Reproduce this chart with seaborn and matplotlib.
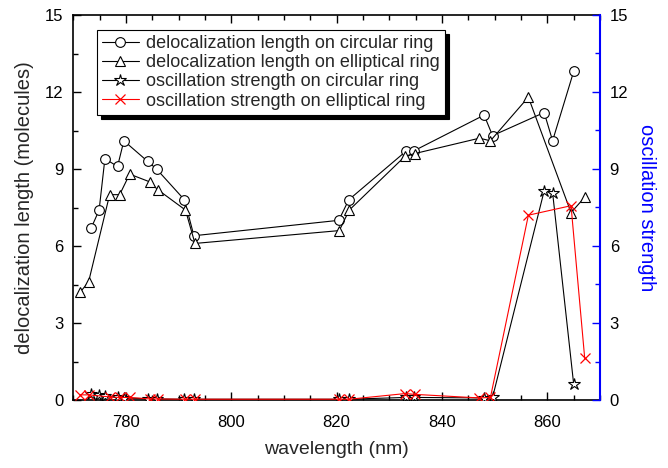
import matplotlib
matplotlib.use("Agg")
import matplotlib.pyplot as plt
import seaborn as sns
import pandas as pd
from matplotlib.ticker import MultipleLocator

sns.set_style("white")
plt.rcParams['font.family'] = ['Liberation Sans', 'DejaVu Sans']

# wavelengths (nm)
wl_circ = [773.4, 774.9, 776.0, 778.4, 779.6, 784.1, 785.8, 791.1, 792.9,
           820.4, 822.3, 833.2, 834.6, 848.0, 849.6, 859.4, 861.0, 865.0]
wl_ell = [771.3, 772.9, 776.9, 778.8, 780.7, 784.5, 786.0, 791.3, 793.1,
          820.5, 822.4, 833.0, 834.8, 847.1, 849.2, 856.4, 864.5, 867.1]

# delocalization length (molecules)
deloc_circ = [6.7, 7.4, 9.4, 9.1, 10.1, 9.3, 9.0, 7.8, 6.4,
              7.0, 7.8, 9.7, 9.7, 11.1, 10.3, 11.2, 10.1, 12.8]
deloc_ell = [4.2, 4.6, 8.0, 8.0, 8.8, 8.5, 8.2, 7.4, 6.1,
             6.6, 7.4, 9.5, 9.6, 10.2, 10.1, 11.8, 7.3, 7.9]

# oscillation strength
osc_circ = [0.25, 0.18, 0.15, 0.10, 0.08, 0.05, 0.04, 0.03, 0.03,
            0.03, 0.03, 0.10, 0.10, 0.08, 0.10, 8.15, 8.08, 0.62]
osc_ell = [0.20, 0.20, 0.12, 0.10, 0.10, 0.04, 0.04, 0.03, 0.03,
           0.03, 0.03, 0.25, 0.22, 0.08, 0.10, 7.2, 7.57, 1.62]

labels = ["delocalization length on circular ring",
          "delocalization length on elliptical ring",
          "oscillation strength on circular ring",
          "oscillation strength on elliptical ring"]

fig = plt.figure(figsize=(6.68, 4.68), dpi=100)
ax = fig.add_axes([73.3/668, 1-400/468, (600-73.3)/668, (400-15)/468])
ax2 = ax.twinx()

common = dict(sort=False, estimator=None, linewidth=0.8, markersize=7)
sns.lineplot(x=wl_circ, y=deloc_circ, ax=ax, color='black', marker='o',
             markerfacecolor='white', markeredgecolor='black', markeredgewidth=0.8,
             label=labels[0], **common)
sns.lineplot(x=wl_ell, y=deloc_ell, ax=ax, color='black', marker='^',
             markerfacecolor='white', markeredgecolor='black', markeredgewidth=0.8,
             label=labels[1], **common)
sns.lineplot(x=wl_circ, y=osc_circ, ax=ax2, color='black', marker='*',
             markerfacecolor='white', markeredgecolor='black', markeredgewidth=0.8,
             label=labels[2], sort=False, estimator=None, linewidth=0.8, markersize=9)
sns.lineplot(x=wl_ell, y=osc_ell, ax=ax2, color='red', marker='x',
             markeredgecolor='red', markeredgewidth=0.9,
             label=labels[3], **common)

for a in (ax, ax2):
    a.set_xlim(770, 870)
    a.set_ylim(0, 15)
    a.yaxis.set_major_locator(MultipleLocator(3))
    a.yaxis.set_minor_locator(MultipleLocator(1.5))
ax.xaxis.set_major_locator(MultipleLocator(20))
ax.xaxis.set_minor_locator(MultipleLocator(5))

ax.tick_params(axis='both', which='both', direction='in', labelsize=12, colors='black')
ax.tick_params(axis='x', which='both', top=True, bottom=True)
ax.tick_params(which='major', length=6, width=1)
ax.tick_params(which='minor', length=3.5, width=1)
ax.tick_params(axis='x', which='major', pad=11)
ax.tick_params(axis='y', which='major', pad=7)

ax2.tick_params(axis='y', which='both', direction='in', labelsize=12,
                color='blue', labelcolor='black', pad=7)
ax2.tick_params(axis='y', which='major', length=6, width=1)
ax2.tick_params(axis='y', which='minor', length=3.5, width=1)

for s in ['left', 'top', 'bottom']:
    ax.spines[s].set_color('black')
    ax.spines[s].set_linewidth(1.2)
ax2.spines['right'].set_color('blue')
ax2.spines['right'].set_linewidth(1.5)
for s in ['left', 'top', 'bottom']:
    ax2.spines[s].set_visible(False)
ax.spines['right'].set_visible(False)

ax.set_xlabel("wavelength (nm)", fontsize=14, labelpad=8)
ax.set_ylabel("delocalization length (molecules)", fontsize=14.5, labelpad=8)
ax2.set_ylabel("oscillation strength", fontsize=14.5, color='blue', labelpad=20,
               rotation=270)

h1, l1 = ax.get_legend_handles_labels()
h2, l2 = ax2.get_legend_handles_labels()
if ax.get_legend():
    ax.get_legend().remove()
if ax2.get_legend():
    ax2.get_legend().remove()
leg = ax2.legend(h1 + h2, l1 + l2, loc='upper left', bbox_to_anchor=(0.045, 0.962),
                 fontsize=13, frameon=True, fancybox=False,
                 shadow={'color': 'black', 'alpha': 1, 'ox': 3, 'oy': -3},
                 handlelength=2.0, handletextpad=0.4, borderpad=0.3, labelspacing=0.12,
                 borderaxespad=0)
leg.get_frame().set_edgecolor('black')
leg.get_frame().set_linewidth(0.8)
leg.get_frame().set_alpha(1)

fig.savefig("out.png", dpi=100)
